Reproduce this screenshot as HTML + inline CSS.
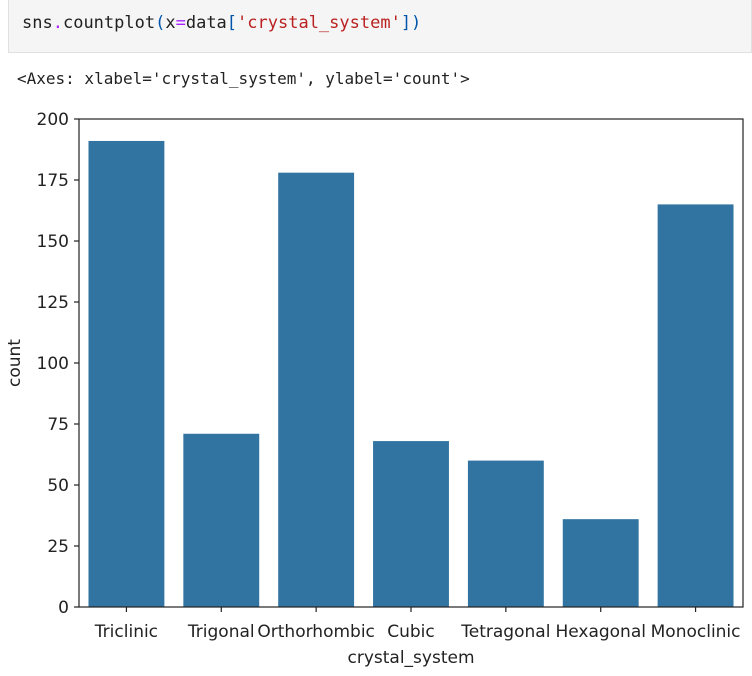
<!DOCTYPE html>
<html><head><meta charset="utf-8"><style>
body{margin:0;width:752px;height:676px;background:#fff;overflow:hidden;position:relative;font-family:"DejaVu Sans","Liberation Sans",sans-serif}
#cell{position:absolute;left:8px;top:0;width:744px;height:53px;background:#f5f5f5;border:1px solid #e0e0e0;border-top:none;box-sizing:border-box}
#code{position:absolute;left:22px;top:13px;font:17px "DejaVu Sans Mono","Liberation Mono",monospace;color:#212121;white-space:pre}
#out{position:absolute;left:17px;top:69px;font:16px "DejaVu Sans Mono","Liberation Mono",monospace;color:#222;white-space:pre}
svg{position:absolute;left:0;top:0}
</style></head><body>
<div id="cell"></div>
<div id="code">sns<span style="color:#aa22ff">.</span>countplot<span style="color:#0055aa">(</span>x<span style="color:#aa22ff">=</span>data<span style="color:#0055aa">[</span><span style="color:#ba2121">'crystal_system'</span><span style="color:#0055aa">])</span></div>
<div id="out">&lt;Axes: xlabel='crystal_system', ylabel='count'&gt;</div>
<svg id="chart" width="752" height="676"></svg>
<script>
const categories=["Triclinic","Trigonal","Orthorhombic","Cubic","Tetragonal","Hexagonal","Monoclinic"];
const counts=[191,71,178,68,60,36,165];
const yTicks=[0,25,50,75,100,125,150,175,200];
const L=79,R=743,T=119,B=607,yMax=200;
const svg=document.getElementById('chart');
const NS="http://www.w3.org/2000/svg";
const y=v=>B-(v/yMax)*(B-T);
const step=(R-L)/categories.length;
const xc=i=>L+step*(i+0.5);
function mk(tag,attrs,text){const e=document.createElementNS(NS,tag);for(const k in attrs)e.setAttribute(k,attrs[k]);if(text!==undefined)e.textContent=text;svg.appendChild(e);return e;}
counts.forEach((c,i)=>{
  const r=mk('rect',{x:xc(i)-step*0.4,y:y(c),width:step*0.8,height:B-y(c),fill:'#3274a1'});
  
  
});
const frame=mk('rect',{x:L,y:T,width:R-L,height:B-T,fill:'none',stroke:'#222','stroke-width':1.2});


yTicks.forEach(t=>{
  mk('line',{x1:L-5,x2:L,y1:y(t),y2:y(t),stroke:'#222','stroke-width':1.2});
  const tx=mk('text',{x:L-10,y:y(t)+6,'text-anchor':'end','font-size':17,fill:'#222'},t);
  
  
});
categories.forEach((c,i)=>{
  mk('line',{x1:xc(i),x2:xc(i),y1:B,y2:B+5,stroke:'#222','stroke-width':1.2});
  const tx=mk('text',{x:xc(i),y:B+30,'text-anchor':'middle','font-size':17,fill:'#222'},c);
  
  
});
const xl=mk('text',{x:(L+R)/2,y:663,'text-anchor':'middle','font-size':17,fill:'#222'},'crystal_system');


const yl=mk('text',{x:20,y:(T+B)/2,'text-anchor':'middle','font-size':17,fill:'#222',transform:'rotate(-90 20 '+(T+B)/2+')'},'count');


</script>
</body></html>
